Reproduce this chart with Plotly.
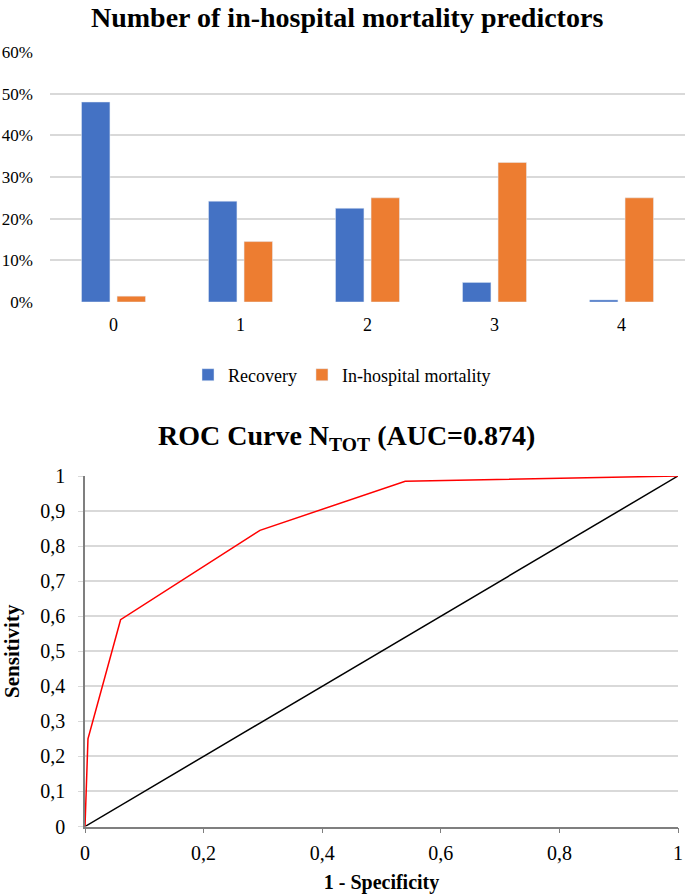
import plotly.graph_objects as go

categories = ["0", "1", "2", "3", "4"]
recovery = [0.48, 0.242, 0.225, 0.047, 0.005]
mortality = [0.014, 0.145, 0.25, 0.335, 0.25]
pct_ticks = [0, 0.1, 0.2, 0.3, 0.4, 0.5, 0.6]
pct_labels = ["0%", "10%", "20%", "30%", "40%", "50%", "60%"]

roc_fpr = [0, 0.005, 0.06, 0.295, 0.54, 1]
roc_tpr = [0, 0.25, 0.59, 0.845, 0.985, 1]
diag_x = [0, 1]
diag_y = [0, 1]
roc_yticks = [i / 10 for i in range(11)]
roc_ylabels = ["0", "0,1", "0,2", "0,3", "0,4", "0,5", "0,6", "0,7", "0,8", "0,9", "1"]
roc_xticks = [0, 0.2, 0.4, 0.6, 0.8, 1]
roc_xlabels = ["0", "0,2", "0,4", "0,6", "0,8", "1"]

FONT = "Liberation Serif"
W, H = 685, 894

def px(p):
    return p / W

def py(p):
    return 1 - p / H

fig = go.Figure()
fig.add_trace(go.Bar(x=categories, y=recovery, name="Recovery", marker_color="#4472C4",
                     xaxis="x", yaxis="y"))
fig.add_trace(go.Bar(x=categories, y=mortality, name="In-hospital mortality", marker_color="#ED7D31",
                     xaxis="x", yaxis="y"))
fig.add_trace(go.Scatter(x=diag_x, y=diag_y, mode="lines", line=dict(color="black", width=1.5),
                         showlegend=False, xaxis="x2", yaxis="y2", cliponaxis=False))
fig.add_trace(go.Scatter(x=roc_fpr, y=roc_tpr, mode="lines", line=dict(color="#FF0000", width=1.5),
                         showlegend=False, xaxis="x2", yaxis="y2", cliponaxis=False))

fig.update_layout(
    width=W, height=H,
    margin=dict(l=0, r=0, t=0, b=0, autoexpand=False),
    paper_bgcolor="white", plot_bgcolor="white",
    font=dict(family=FONT, color="black", size=17),
    barmode="group", bargap=0.44, bargroupgap=0.2,
    showlegend=True,
    legend=dict(orientation="h", x=px(342), xanchor="center", y=py(375), yanchor="middle",
                font=dict(size=18), itemwidth=30, traceorder="normal"),
    xaxis=dict(domain=[px(50), 1], anchor="y", showgrid=False, showline=False, automargin=False,
               ticks="outside", ticklen=6, tickcolor="rgba(0,0,0,0)", zeroline=False,
               tickfont=dict(size=18)),
    yaxis=dict(domain=[py(302), py(52)], anchor="x", range=[0, 0.6], tickvals=pct_ticks,
               ticktext=pct_labels, showgrid=True, gridcolor="#D9D9D9", gridwidth=1.5,
               zeroline=False, showline=False, ticklabelstandoff=16, automargin=False),
    xaxis2=dict(domain=[px(85), px(678)], anchor="y2", range=[0, 1], tickvals=roc_xticks,
                ticktext=roc_xlabels, showgrid=False, showline=True, linecolor="#7F7F7F",
                linewidth=1.5, ticks="outside", ticklen=5, tickcolor="#7F7F7F", zeroline=False,
                tickfont=dict(size=20), ticklabelstandoff=3, automargin=False,
                title=dict(text="<b>1 - Specificity</b>", font=dict(size=20), standoff=12)),
    yaxis2=dict(domain=[py(826.5), py(476)], anchor="x2", range=[0, 1], tickvals=roc_yticks,
                ticktext=roc_ylabels, showgrid=True, gridcolor="#D9D9D9", gridwidth=1.5,
                showline=True, linecolor="#7F7F7F", linewidth=1.5, ticks="outside", ticklen=5,
                tickcolor="#D9D9D9", zeroline=False, ticklabelstandoff=9, automargin=False,
                tickfont=dict(size=20),
                title=dict(text="<b>Sensitivity</b>", font=dict(size=21), standoff=15)),
    annotations=[
        dict(text="<b>Number of in-hospital mortality predictors</b>", x=px(347), y=py(18),
             xref="paper", yref="paper", showarrow=False, font=dict(size=28),
             xanchor="center", yanchor="middle"),
        dict(text="<b>ROC Curve N<sub>TOT</sub> (AUC=0.874)</b>", x=px(346), y=py(437),
             xref="paper", yref="paper", showarrow=False, font=dict(size=28),
             xanchor="center", yanchor="middle"),
    ],
)

fig.write_html("out.html", config={"displayModeBar": False},
               post_script="document.body.style.margin='0';")
